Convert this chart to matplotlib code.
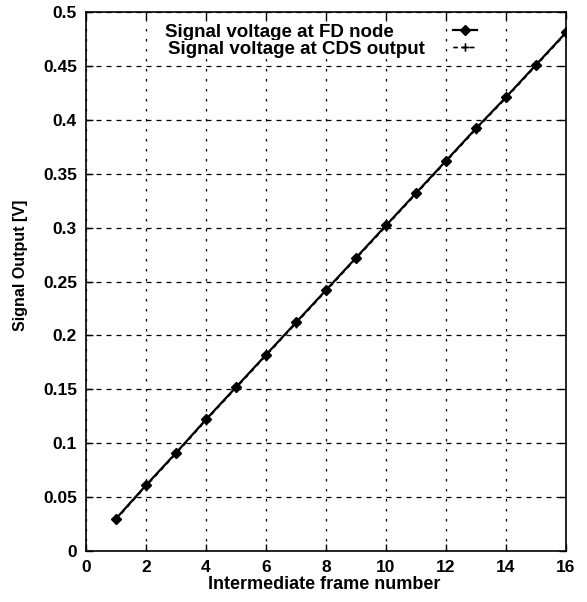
import matplotlib
matplotlib.use("Agg")
import matplotlib.pyplot as plt

frames = [1, 2, 3, 4, 5, 6, 7, 8, 9, 10, 11, 12, 13, 14, 15, 16]
fd_node = [0.030, 0.061, 0.091, 0.122, 0.152, 0.182, 0.212, 0.242,
           0.272, 0.302, 0.332, 0.362, 0.392, 0.421, 0.451, 0.481]
cds_out = [0.029, 0.060, 0.090, 0.121, 0.151, 0.181, 0.211, 0.241,
           0.271, 0.301, 0.331, 0.361, 0.391, 0.420, 0.450, 0.480]
series_labels = ['Signal voltage at FD node', 'Signal voltage at CDS output']
xticks = [0, 2, 4, 6, 8, 10, 12, 14, 16]
yticks = [0, 0.05, 0.1, 0.15, 0.2, 0.25, 0.3, 0.35, 0.4, 0.45, 0.5]
ytick_labels = ["0", "0.05", "0.1", "0.15", "0.2", "0.25", "0.3", "0.35", "0.4", "0.45", "0.5"]

plt.rcParams['font.family'] = ['Liberation Sans', 'DejaVu Sans']

W, H = 587, 602
fig = plt.figure(figsize=(W / 100, H / 100), dpi=100)
ax = fig.add_axes([86 / W, 51 / H, 480 / W, 539 / H])

l1, = ax.plot(frames, fd_node, '-', color='black', marker='D', markersize=5.5,
              linewidth=1.6, label=series_labels[0], zorder=3)
l2, = ax.plot(frames, cds_out, '--', color='black', marker='+', markersize=6,
              linewidth=1.0, dashes=(3, 3), label=series_labels[1], zorder=3)

ax.set_xlim(0, 16)
ax.set_ylim(0, 0.5)
ax.set_xticks(xticks)
ax.set_xticklabels([str(t) for t in xticks], fontweight='bold', fontsize=12.5)
ax.set_yticks(yticks)
ax.set_yticklabels(ytick_labels, fontweight='bold', fontsize=12.5)
ax.tick_params(direction='in', top=True, right=True, length=5, width=1, pad=6.5)
ax.xaxis.grid(True, color='black', linestyle=(0, (2, 6)), linewidth=0.9)
ax.yaxis.grid(True, color='black', linestyle=(0, (4, 4)), linewidth=0.9)
for s in ax.spines.values():
    s.set_linewidth(1.2)

ax.set_xlabel('Intermediate frame number', fontweight='bold', fontsize=13)
ax.xaxis.set_label_coords(0.496, -0.046)
ax.set_ylabel('Signal Output [V]', fontweight='bold', fontsize=11.5)
ax.yaxis.set_label_coords(-0.121, 0.53)

# legend: left-aligned labels with handles to the right
label_pos = [(165, 37), (168, 54)]
handle_rows = [31, 48]
for (lx, ly), lab in zip(label_pos, series_labels):
    fig.text(lx / W, 1 - ly / H, lab, fontsize=13.5, fontweight='bold',
             ha='left', va='baseline', zorder=5,
             bbox=dict(facecolor='white', edgecolor='none', pad=0.5))
for h, hy in zip([l1, l2], handle_rows):
    lg = ax.legend([h], [''], loc='center left',
                   bbox_to_anchor=(453 / W, 1 - hy / H), bbox_transform=fig.transFigure,
                   frameon=False, prop={'size': 8}, handlelength=2.2,
                   handletextpad=0, borderpad=0, borderaxespad=0)
    ax.add_artist(lg)

fig.savefig('out.png', dpi=100)
